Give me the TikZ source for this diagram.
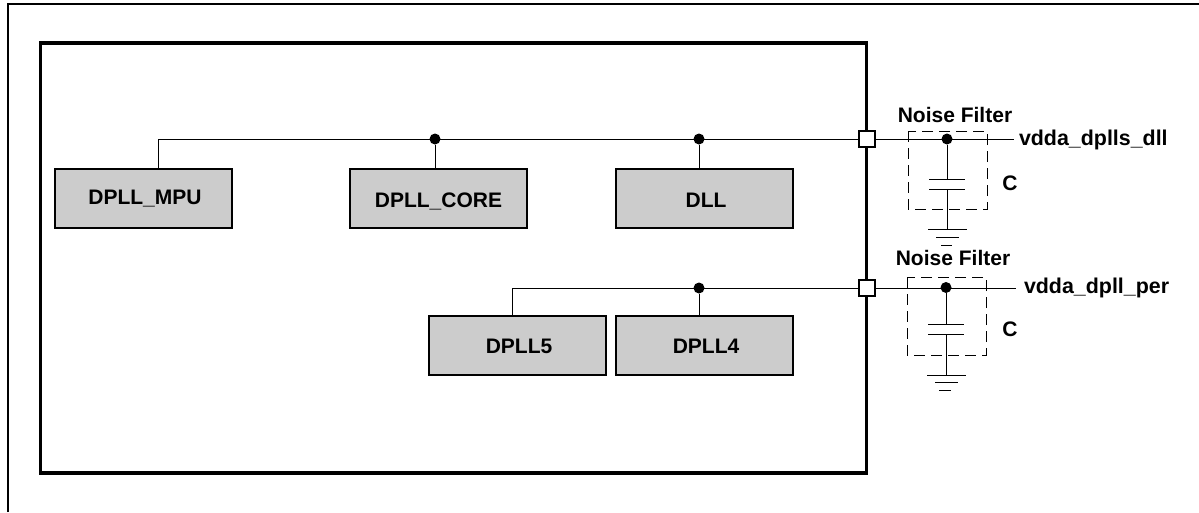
\documentclass[tikz,border=0pt]{standalone}
\usepackage{fontspec}
\setmainfont{Liberation Sans}
\tikzset{
  block/.style={draw=black,line width=2pt,fill=black!20,minimum width=177pt,minimum height=59pt,outer sep=0pt,inner sep=0pt,text depth=0pt,text height=15pt,font=\fontsize{21}{24}\selectfont\bfseries},
  port/.style={draw=black,line width=1.5pt,fill=white,minimum size=16pt,outer sep=0pt,inner sep=0pt},
  wire/.style={line width=0.9pt},
  filterbox/.style={line width=1pt,dash pattern=on 11pt off 6pt},
  label/.style={font=\fontsize{21}{24}\selectfont\bfseries,inner sep=0pt,outer sep=0pt},
  net/.style={font=\fontsize{21.4}{24}\selectfont\bfseries,inner sep=0pt,outer sep=0pt,anchor=west},
  junction/.style={circle,fill=black,minimum size=11pt,inner sep=0pt,outer sep=0pt}
}
\begin{document}
\begin{tikzpicture}[x=1pt,y=-1pt]
  \useasboundingbox (0,0) rectangle (1199,512);

  \draw[line width=1.2pt] (8,512) -- (8,4) -- (1199,4);
  \draw[line width=3.5pt] (40.5,43) rectangle (866.5,473);

  \node[block,text depth=3pt] (mpu) at (143,198) {\kern4pt DPLL\_MPU};
  \node[block,text height=18pt] (core) at (438.5,198) {DPLL\_CORE};
  \node[block,text height=18pt] (dll) at (704,198) {\kern4pt DLL};
  \node[block] (pll5) at (517,345.5) {\kern4pt DPLL5};
  \node[block] (pll4) at (704,345.5) {\kern4pt DPLL4};

  \node[port] (porta) at (867,139) {};
  \node[port] (portb) at (867,288) {};

  \coordinate (busa) at (158,139);
  \coordinate (busb) at (512,288);
  \coordinate (enda) at (1014,139);
  \coordinate (endb) at (1016,288);

  \node[junction] (dota) at (435,139) {};
  \node[junction] (dotb) at (699,139) {};
  \node[junction] (dotc) at (699,288) {};
  \node[junction] (dotd) at (947,139) {};
  \node[junction] (dote) at (946,287.5) {};

  \draw[wire] (mpu.north -| busa) -- (busa) -- (porta.west);
  \draw[wire] (dota) -- (dota |- core.north);
  \draw[wire] (dotb) -- (dotb |- dll.north);
  \draw[wire] (pll5.north -| busb) -- (busb) -- (portb.west);
  \draw[wire] (dotc) -- (dotc |- pll4.north);
  \draw[wire] (porta.east) -- (enda);
  \draw[wire] (portb.east) -- (endb);

  \draw[filterbox] (908,131) rectangle (987,209);
  \draw[filterbox] (907,277) rectangle (986,355);

  \coordinate (capa1) at (947,179);
  \coordinate (capa2) at (947,189);
  \coordinate (gnda) at (947,229);
  \coordinate (capb1) at (946,324);
  \coordinate (capb2) at (946,334);
  \coordinate (gndb) at (946,375);

  \draw[wire] (dotd) -- (capa1);
  \draw[wire] (capa1) ++(-18,0) -- ++(36,0);
  \draw[wire] (capa2) ++(-18,0) -- ++(36,0);
  \draw[wire] (capa2) -- (gnda);
  \draw[wire] (gnda) ++(-19,0) -- ++(39,0);
  \draw[wire] (gnda) ++(-11,8) -- ++(23,0);
  \draw[wire] (gnda) ++(-6,16) -- ++(11,0);

  \draw[wire] (dote) -- (capb1);
  \draw[wire] (capb1) ++(-18,0) -- ++(36,0);
  \draw[wire] (capb2) ++(-18,0) -- ++(36,0);
  \draw[wire] (capb2) -- (gndb);
  \draw[wire] (gndb) ++(-19,0) -- ++(39,0);
  \draw[wire] (gndb) ++(-11,7) -- ++(23,0);
  \draw[wire] (gndb) ++(-7,15) -- ++(12,0);

  \node[label] (filtera) at (955,115) {Noise Filter};
  \node[label] (filterb) at (953,258) {Noise Filter};
  \node[net] (neta) at (1019,139.5) {vdda\_dplls\_dll};
  \node[net] (netb) at (1024,288) {vdda\_dpll\_per};
  \node[label] (capa) at (1010,183) {C};
  \node[label] (capb) at (1010,329) {C};
\end{tikzpicture}
\end{document}
